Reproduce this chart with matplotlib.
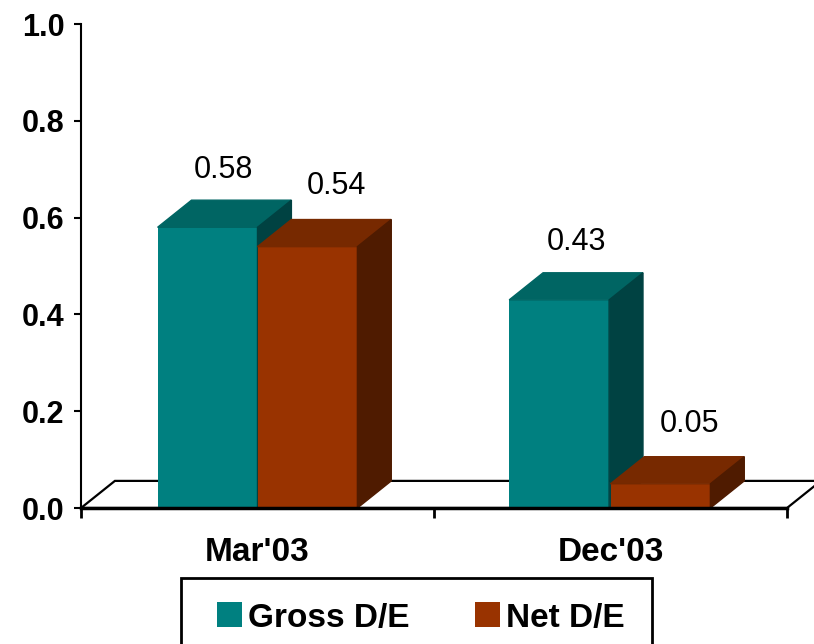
import matplotlib
matplotlib.use("Agg")
import matplotlib.pyplot as plt
from matplotlib.patches import Polygon, Rectangle

plt.rcParams['font.family'] = ['Liberation Sans', 'DejaVu Sans']

# данные
categories = ["Mar'03", "Dec'03"]
gross_de = [0.58, 0.43]
net_de = [0.54, 0.05]
series_names = ['Gross D/E', 'Net D/E']

# цвета граней: передняя, верхняя, боковая
teal = ('#008080', '#006563', '#004242')
brown = ('#993300', '#772900', '#4f1b00')

W = 0.283      # ширина столбика
DX = 0.096     # глубина по x
DY = 0.056     # глубина по y

fig = plt.figure(figsize=(8.14, 6.44), dpi=100)
ax = fig.add_axes([81 / 814, 136 / 644, 706 / 814, 484 / 644])
ax.set_xlim(-0.5, 1.5)
ax.set_ylim(0, 1.0)


def bar3d(x0, h, cols):
    ax.bar(x0, h, width=W, align='edge', color=cols[0], zorder=3)
    top = [(x0, h), (x0 + DX, h + DY), (x0 + W + DX, h + DY), (x0 + W, h)]
    side = [(x0 + W, 0), (x0 + W + DX, DY), (x0 + W + DX, h + DY), (x0 + W, h)]
    ax.add_patch(Polygon(top, closed=True, color=cols[1], zorder=3))
    ax.add_patch(Polygon(side, closed=True, color=cols[2], zorder=3))


# пол
floor = [(-0.5, 0), (-0.5 + DX, DY), (1.5 + DX, DY), (1.5, 0)]
ax.add_patch(Polygon(floor, closed=True, facecolor='white', edgecolor='black',
                     lw=1.6, zorder=2, clip_on=False))

for i in range(len(categories)):
    bar3d(i - W - 0.004 * i, gross_de[i], teal)
    bar3d(i, net_de[i], brown)
    ax.annotate(f'{gross_de[i]:.2f}', (i - W / 2 + DX / 2, gross_de[i] + DY),
                xytext=(-1, 11), textcoords='offset points',
                ha='center', va='bottom', fontsize=22, zorder=5)
    ax.annotate(f'{net_de[i]:.2f}', (i + W / 2 + DX / 2, net_de[i] + DY),
                xytext=(9, 13), textcoords='offset points',
                ha='center', va='bottom', fontsize=22, zorder=5)

# оси
ax.spines['top'].set_visible(False)
ax.spines['right'].set_visible(False)
ax.spines['left'].set_linewidth(1.5)
ax.spines['bottom'].set_linewidth(2.5)
ax.spines['bottom'].set_zorder(4)

ax.set_yticks([0, 0.2, 0.4, 0.6, 0.8, 1.0])
ax.set_yticklabels(['0.0', '0.2', '0.4', '0.6', '0.8', '1.0'],
                   fontsize=22, fontweight='bold')
ax.tick_params(axis='y', direction='out', length=5, width=1.5, pad=7)

ax.set_xticks(range(len(categories)))
ax.set_xticklabels(categories, fontsize=24, fontweight='bold')
ax.set_xticks([-0.5, 0.5, 1.5], minor=True)
ax.tick_params(axis='x', which='major', length=0, pad=21)
ax.tick_params(axis='x', which='minor', direction='out', length=7, width=2)

# легенда
fig.patches.append(Rectangle((181 / 814, -0.1), (652 - 181) / 814, (644 - 578) / 644 + 0.1,
                             transform=fig.transFigure, facecolor='white',
                             edgecolor='black', lw=2))
for x, name, c in [(217, series_names[0], teal[0]), (475, series_names[1], brown[0])]:
    fig.patches.append(Rectangle((x / 814, (644 - 627) / 644), 25 / 814, 25 / 644,
                                 transform=fig.transFigure, facecolor=c, edgecolor='none'))
    fig.text((x + 31) / 814, (644 - 627) / 644, name, fontsize=24, fontweight='bold',
             ha='left', va='baseline')

fig.savefig('out.png', dpi=100)
